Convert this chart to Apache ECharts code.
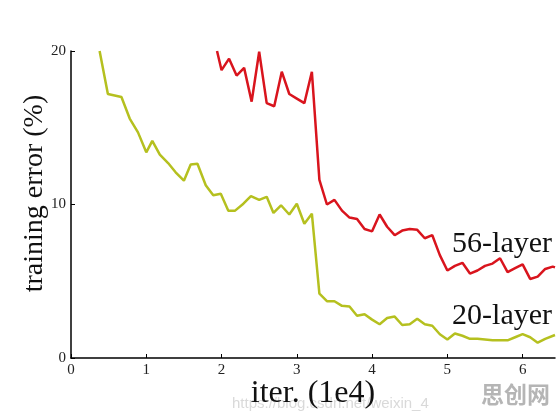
<!DOCTYPE html>
<html lang="en">
<head>
    <meta charset="UTF-8">
    <title>training error</title>
    <script src="https://cdn.jsdelivr.net/npm/echarts@6/dist/echarts.min.js"></script>
    <style>
        html, body { margin: 0; padding: 0; background: #fff; }
    </style>
</head>
<body>
<div id="main" style="width: 559px;height:418px;"></div>
<script type="text/javascript">
    // iterations (1e4) and training error (%)
    var iter56 = [1.94, 2.0, 2.1, 2.2, 2.3, 2.4, 2.5, 2.6, 2.7, 2.8, 2.9, 3.0, 3.1, 3.2, 3.3, 3.4, 3.5, 3.6, 3.7, 3.8,
        3.9, 4.0, 4.1, 4.2, 4.3, 4.4, 4.5, 4.6, 4.7, 4.8, 4.9, 5.0, 5.1, 5.2, 5.3, 5.4, 5.5, 5.6, 5.7, 5.8,
        5.9, 6.0, 6.1, 6.2, 6.3, 6.4, 6.43];
    var err56 = [20.0, 18.75, 19.5, 18.4, 18.9, 16.7, 19.95, 16.6, 16.4, 18.65, 17.2, 16.9, 16.6, 18.65, 11.6, 10.0, 10.3, 9.6, 9.15, 9.05,
        8.4, 8.25, 9.35, 8.55, 8.0, 8.3, 8.4, 8.35, 7.8, 8.0, 6.7, 5.7, 6.0, 6.2, 5.5, 5.7, 6.0, 6.15, 6.5, 5.6,
        5.85, 6.1, 5.15, 5.3, 5.8, 5.95, 5.9];

    var iter20 = [0.38, 0.49, 0.58, 0.67, 0.78, 0.89, 1.0, 1.08, 1.18, 1.29, 1.39, 1.5, 1.59, 1.68, 1.79, 1.89, 1.99, 2.09, 2.18, 2.29,
        2.39, 2.5, 2.6, 2.69, 2.79, 2.9, 3.0, 3.1, 3.2, 3.3, 3.4, 3.5, 3.6, 3.7, 3.8, 3.9, 4.0, 4.1, 4.2, 4.3,
        4.4, 4.5, 4.6, 4.7, 4.8, 4.9, 5.0, 5.1, 5.2, 5.3, 5.4, 5.5, 5.6, 5.7, 5.8, 5.9, 6.0, 6.1, 6.2, 6.3, 6.43];
    var err20 = [20.0, 17.2, 17.1, 17.0, 15.6, 14.7, 13.4, 14.15, 13.25, 12.7, 12.1, 11.55, 12.6, 12.65, 11.25, 10.6, 10.7, 9.6, 9.6, 10.05,
        10.55, 10.3, 10.5, 9.45, 9.95, 9.35, 10.05, 8.75, 9.4, 4.2, 3.7, 3.7, 3.4, 3.35, 2.75, 2.85, 2.5, 2.2, 2.6, 2.7,
        2.15, 2.2, 2.55, 2.2, 2.1, 1.55, 1.2, 1.6, 1.45, 1.25, 1.25, 1.2, 1.15, 1.15, 1.15, 1.35, 1.55, 1.35, 1.0, 1.25, 1.5];

    var xTicks = [0, 1, 2, 3, 4, 5, 6];
    var yTicks = [0, 10, 20];

    function pairs(xs, ys) {
        var out = [];
        for (var i = 0; i < xs.length; i++) {
            out.push([xs[i], ys[i]]);
        }
        return out;
    }

    var serif = '"Liberation Serif", "DejaVu Serif", serif';
    var myChart = echarts.init(document.getElementById('main'));

    myChart.setOption({
        animation: false,
        backgroundColor: '#fff',
        grid: { left: 71, right: 4, top: 51, bottom: 60, outerBoundsMode: 'none', containLabel: false },
        xAxis: {
            type: 'value',
            min: 0,
            max: 6.43,
            name: 'iter. (1e4)',
            nameLocation: 'middle',
            nameGap: 20,
            nameMoveOverlap: false,
            nameTextStyle: { fontFamily: serif, fontSize: 32, color: '#111' },
            axisLine: { show: true, lineStyle: { color: '#000', width: 1.5 } },
            axisTick: { show: true, inside: true, length: 4, customValues: xTicks, lineStyle: { color: '#000' } },
            axisLabel: { customValues: xTicks, fontFamily: serif, fontSize: 15, color: '#222', margin: 5 },
            splitLine: { show: false }
        },
        yAxis: {
            type: 'value',
            min: 0,
            max: 20,
            name: 'training error (%)',
            nameLocation: 'middle',
            nameGap: 22,
            nameMoveOverlap: false,
            nameTextStyle: { fontFamily: serif, fontSize: 28, color: '#111', padding: [0, 0, 0, 22] },
            axisLine: { show: true, lineStyle: { color: '#000', width: 1.5 } },
            axisTick: { show: true, inside: true, length: 4, customValues: yTicks, lineStyle: { color: '#000' } },
            axisLabel: { customValues: yTicks, fontFamily: serif, fontSize: 15, color: '#222', margin: 5 },
            splitLine: { show: false }
        },
        series: [
            {
                name: '56-layer',
                type: 'line',
                data: pairs(iter56, err56),
                showSymbol: false,
                lineStyle: { color: '#d9141d', width: 2.5 },
                itemStyle: { color: '#d9141d' }
            },
            {
                name: '20-layer',
                type: 'line',
                data: pairs(iter20, err20),
                showSymbol: false,
                lineStyle: { color: '#b5c01f', width: 2.5 },
                itemStyle: { color: '#b5c01f' }
            }
        ],
        graphic: [
            {
                type: 'text', right: 7, top: 229,
                style: { text: '56-layer', font: '30px ' + serif, fill: '#111' }
            },
            {
                type: 'text', right: 7, top: 301,
                style: { text: '20-layer', font: '30px ' + serif, fill: '#111' }
            },
            {
                type: 'text', left: 232, top: 396,
                style: { text: 'https://blog.csdn.net/weixin_4', font: '15px "Liberation Sans", sans-serif', fill: 'rgba(170,170,170,0.45)' }
            },
            {
                type: 'text', left: 481, top: 383,
                style: { text: '思创网', font: 'bold 23px "Noto Sans CJK SC", sans-serif', fill: 'rgba(120,120,120,0.55)' }
            }
        ]
    });
</script>
</body>
</html>
